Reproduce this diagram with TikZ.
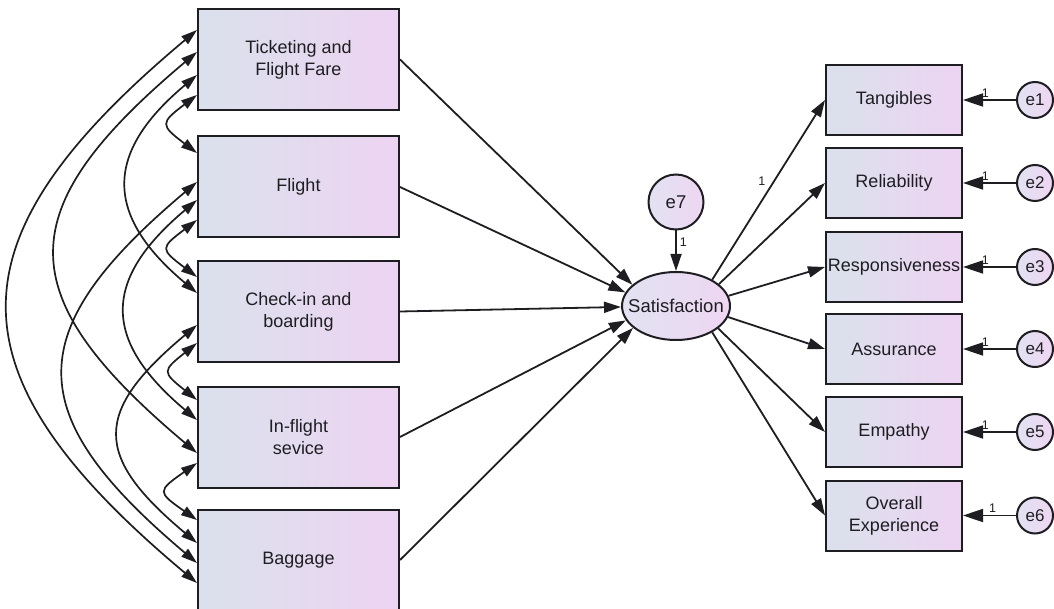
\documentclass[tikz,border=0pt]{standalone}
\usepackage{fontspec}
\setmainfont{Liberation Sans}
\usetikzlibrary{arrows.meta,shapes.geometric}

\definecolor{boxL}{RGB}{218,225,236}
\definecolor{boxR}{RGB}{237,212,242}
\definecolor{ovL}{RGB}{226,226,242}
\definecolor{ovR}{RGB}{238,214,242}
\definecolor{ink}{RGB}{30,30,34}

\begin{document}
\begin{tikzpicture}[x=1pt,y=-1pt,
  obsL/.style={draw=ink, line width=2pt, left color=boxL, right color=boxR,
    minimum width=201pt, minimum height=101pt, inner sep=0pt, align=center,
    text=ink, font=\fontsize{18}{22}\selectfont},
  obsR/.style={obsL, minimum width=136pt, minimum height=70pt},
  latent/.style={draw=ink, line width=2pt, ellipse, left color=ovL, right color=ovR,
    minimum width=108pt, minimum height=68pt, inner sep=0pt, text=ink,
    font=\fontsize{18.5}{22}\selectfont},
  errc/.style={draw=ink, line width=2pt, circle, left color=ovL, right color=ovR,
    minimum size=36pt, inner sep=0pt, text=ink, font=\fontsize{17}{20}\selectfont},
  reg/.style={draw=ink, line width=1.8pt, -{Triangle[length=17pt,width=11pt]}},
  errarrow/.style={draw=ink, line width=1.8pt, -{Triangle[length=20pt,width=13pt]}},
  cov/.style={draw=ink, line width=1.7pt,
    {Triangle[length=16pt,width=10pt]}-{Triangle[length=16pt,width=10pt]}},
  coef/.style={font=\fontsize{12.5}{14}\selectfont, text=ink, inner sep=1pt}]

\useasboundingbox (0,0) rectangle (1054,609);
\clip (0,0) rectangle (1054,609);

% exogenous service dimensions
\node[obsL] (tick)     at (298.5,59.5) {Ticketing and\\Flight Fare};
\node[obsL] (flight)   at (298.5,187)  {Flight};
\node[obsL] (checkin)  at (298.5,311.5){Check-in and\\boarding};
\node[obsL] (inflight) at (298.5,437)  {In-flight\\sevice};
\node[obsL] (bag)      at (298.5,560)  {Baggage};

% latent outcome and its disturbance
\node[latent] (sat) at (676,306) {\makebox[0pt]{Satisfaction}};
\node[errc, minimum size=55pt, font=\fontsize{18.5}{22}\selectfont] (e7) at (676,202) {e7};

% indicators
\node[obsR] (tang)  at (894,100)   {Tangibles};
\node[obsR] (rel)   at (894,183)   {Reliability};
\node[obsR] (resp)  at (894,267)   {Responsiveness};
\node[obsR] (assu)  at (894,349)   {Assurance};
\node[obsR] (emp)   at (894,432)   {Empathy};
\node[obsR] (over)  at (894,515.5) {Overall\\Experience};

% measurement errors
\node[errc] (e1) at (1035,100)   {e1};
\node[errc] (e2) at (1035,183)   {e2};
\node[errc] (e3) at (1035,267)   {e3};
\node[errc] (e4) at (1035,349)   {e4};
\node[errc] (e5) at (1035,432)   {e5};
\node[errc] (e6) at (1035,515.5) {e6};

% covariances among the exogenous variables
\draw[cov] ([yshift=29.5pt]tick.west) .. controls +(-251,210) and +(-251,-210) .. ([yshift=-23pt]bag.west);
\draw[cov] ([yshift=7.5pt]tick.west) .. controls +(-188,158) and +(-188,-158) .. ([yshift=-16pt]inflight.west);
\draw[cov] ([yshift=5pt]flight.west) .. controls +(-177,149) and +(-177,-149) .. ([yshift=-3pt]bag.west);
\draw[cov] ([yshift=-15.5pt]tick.west) .. controls +(-93,78) and +(-93,-78) .. ([yshift=18.5pt]checkin.west);
\draw[cov] ([yshift=-13pt]flight.west) .. controls +(-95,80) and +(-95,-80) .. ([yshift=17pt]inflight.west);
\draw[cov] ([yshift=-13.5pt]checkin.west) .. controls +(-104,87) and +(-104,-87) .. ([yshift=17pt]bag.west);
\draw[cov] ([yshift=-35.5pt]tick.west) .. controls +(-37,28) and +(-37,-28) .. ([yshift=34pt]flight.west);
\draw[cov] ([yshift=-33pt]flight.west) .. controls +(-37,28) and +(-37,-28) .. ([yshift=34.5pt]checkin.west);
\draw[cov] ([yshift=-31.5pt]checkin.west) .. controls +(-35,28) and +(-35,-28) .. ([yshift=37pt]inflight.west);
\draw[cov] ([yshift=-26pt]inflight.west) .. controls +(-40,28) and +(-40,-28) .. ([yshift=40pt]bag.west);

% structural paths
\draw[reg] (tick.east)     -- (sat.154);
\draw[reg] (flight.east)   -- (sat.165);
\draw[reg] (checkin.east)  -- (sat.181);
\draw[reg] (inflight.east) -- (sat.196);
\draw[reg] (bag.east)      -- (sat.207);
\draw[reg] (e7) -- (sat) node[coef, pos=0.3, right=2pt] (c7) {1};

% loadings
\draw[reg] (sat.36)  -- (tang.west) node[coef, pos=0.55, left=7pt] (c0) {1};
\draw[reg] (sat.27)  -- (rel.west);
\draw[reg] (sat.11)  -- (resp.west);
\draw[reg] (sat.348) -- (assu.west);
\draw[reg] (sat.332) -- (emp.west);
\draw[reg] (sat.324) -- (over.west);

% error paths
\draw[errarrow] (e1) -- (tang.east) node[coef, pos=0.58, above=1pt] (c1) {1};
\draw[errarrow] (e2) -- (rel.east)  node[coef, pos=0.58, above=1pt] (c2) {1};
\draw[errarrow] (e3) -- (resp.east) node[coef, pos=0.58, above=1pt] (c3) {1};
\draw[errarrow] (e4) -- (assu.east) node[coef, pos=0.58, above=1pt] (c4) {1};
\draw[errarrow] (e5) -- (emp.east)  node[coef, pos=0.58, above=1pt] (c5) {1};
\draw[errarrow] (e6) -- (over.east) node[coef, pos=0.44, above=1pt] (c6) {1};
\end{tikzpicture}
\end{document}
